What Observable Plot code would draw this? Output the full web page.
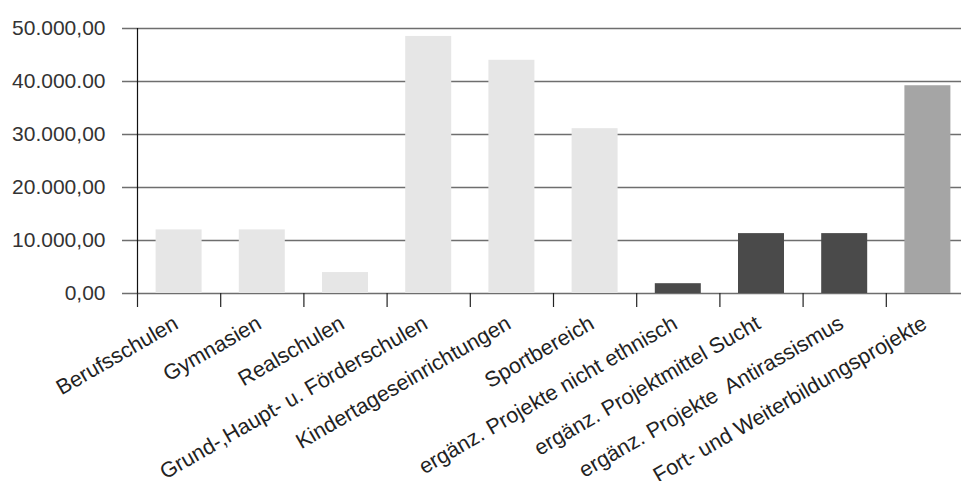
<!DOCTYPE html>
<html>
<head>
<meta charset="utf-8">
<script src="https://cdn.jsdelivr.net/npm/d3@7"></script>
<script src="https://cdn.jsdelivr.net/npm/@observablehq/plot@0.6"></script>
<style>
  html, body { margin: 0; padding: 0; background: #fff; }
</style>
</head>
<body>
<div id="chart"></div>
<script>
const categories = [
  "Berufsschulen",
  "Gymnasien",
  "Realschulen",
  "Grund-,Haupt- u. Förderschulen",
  "Kindertageseinrichtungen",
  "Sportbereich",
  "ergänz. Projekte nicht ethnisch",
  "ergänz. Projektmittel Sucht",
  "ergänz. Projekte  Antirassismus",
  "Fort- und Weiterbildungsprojekte"
];
const values = [12000, 12000, 3950, 48500, 44000, 31100, 1850, 11300, 11300, 39200];
const groups = ["Einrichtung", "Einrichtung", "Einrichtung", "Einrichtung", "Einrichtung", "Einrichtung",
                "Projekt", "Projekt", "Projekt", "Fortbildung"];
const yTicks = [0, 10000, 20000, 30000, 40000, 50000];
const yTickLabels = ["0,00", "10.000,00", "20.000,00", "30.000,00", "40.000.00", "50.000,00"];

const data = categories.map((c, i) => ({cat: c, i, value: values[i], group: groups[i]}));
const edges = d3.range(categories.length);

const chart = Plot.plot({
  width: 961,
  height: 481,
  marginTop: 28,
  marginBottom: 188,
  marginLeft: 122,
  marginRight: 0,
  style: {fontFamily: "'Liberation Sans', Arial, sans-serif", fontSize: "21px", color: "#333", background: "#fff"},
  x: {type: "linear", domain: [0, categories.length], range: [137, 969]},
  y: {domain: [0, 50000]},
  color: {domain: ["Einrichtung", "Projekt", "Fortbildung"], range: ["#e6e6e6", "#4a4a4a", "#a5a5a5"]},
  marks: [
    Plot.ruleY(yTicks, {stroke: "#6e6e6e", strokeWidth: 1.3}),
    Plot.rectY(data, {x1: "i", x2: d => d.i + 1, y: "value", fill: "group", insetLeft: 18.6, insetRight: 18.6}),
    Plot.ruleX([0], {y1: 0, y2: 50000, stroke: "#111", strokeWidth: 1.2}),
    Plot.axisX({ticks: edges, tickSize: 14, tickFormat: () => "", stroke: "#222", strokeWidth: 1.2, label: null}),
    Plot.axisY({ticks: yTicks, tickSize: 0, tickPadding: 17, tickFormat: d => yTickLabels[yTicks.indexOf(d)], fill: "#333", fontSize: 21, label: null}),
    Plot.text(data, {x: d => d.i + 0.5, y: 0, text: "cat", rotate: -30, textAnchor: "end", dx: -3, dy: 28, fill: "#222", fontSize: 21.5})
  ]
});
document.getElementById("chart").appendChild(chart);
</script>
</body>
</html>
